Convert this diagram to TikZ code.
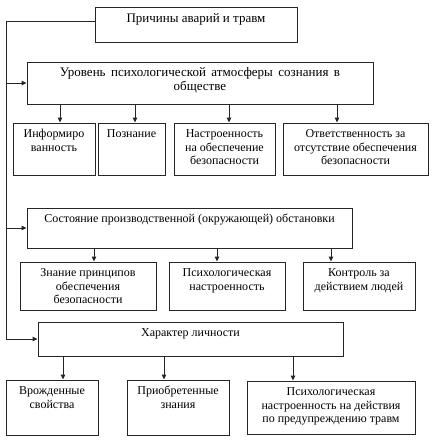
\documentclass[tikz,border=0pt]{standalone}
\usepackage{fontspec}
\setmainfont{Liberation Serif}
\usetikzlibrary{arrows.meta}
\begin{document}
\begin{tikzpicture}[x=1pt,y=-1pt,
  box/.style={draw=black!85,line width=0.9pt,inner sep=0pt},
  txt/.style={inner sep=0pt,anchor=north,align=center,font=\fontsize{12}{13.5}\selectfont},
  bigtxt/.style={txt,font=\fontsize{13}{14}\selectfont},
  ln/.style={draw=black!85,line width=0.9pt},
  arr/.style={ln,-{Triangle[length=5pt,width=4.5pt]}}]
\useasboundingbox (0,0) rectangle (434,440);
\def\bx#1#2#3#4#5{\node[box,minimum width=#4pt-#2pt,minimum height=#5pt-#3pt] (#1) at ({(#2+#4)/2},{(#3+#5)/2}) {};}
\bx{b1}{95}{7}{297}{42}
\bx{b2}{27}{62}{373}{104}
\bx{a1}{13}{123}{95}{175}
\bx{a2}{98}{123}{165}{175}
\bx{a3}{174}{123}{275}{175}
\bx{a4}{283}{123}{428}{175}
\bx{b3}{27}{208}{352}{248}
\bx{c1}{20}{262}{156}{310}
\bx{c2}{169}{262}{285}{310}
\bx{c3}{303}{262}{415}{310}
\bx{b4}{38}{322}{343}{356}
\bx{d1}{6}{380}{98}{435}
\bx{d2}{127}{380}{229}{435}
\bx{d3}{247}{381}{415}{434}
\def\st{\rule{0pt}{9pt}}
\node[bigtxt] (t1) at ([yshift=-7pt]b1.north) {\st Причины аварий и травм};
\node[bigtxt] (t2) at ([yshift=-6pt]b2.north) {\spaceskip=5.5pt plus 1pt\st Уровень психологической атмосферы сознания в\\обществе};
\node[txt] (ta1) at ([yshift=-6pt]a1.north) {\st Информиро\\ванность};
\node[txt] (ta2) at ([yshift=-6pt]a2.north) {\st Познание};
\node[txt] (ta3) at ([yshift=-6pt]a3.north) {\st Настроенность\\на обеспечение\\безопасности};
\node[txt] (ta4) at ([yshift=-6pt]a4.north) {\st Ответственность за\\отсутствие обеспечения\\безопасности};
\node[txt] (t3) at ([yshift=-6pt]b3.north) {\st Состояние производственной (окружающей) обстановки};
\node[txt] (tc1) at ([yshift=-6pt]c1.north) {\st Знание принципов\\обеспечения\\безопасности};
\node[txt] (tc2) at ([yshift=-6pt]c2.north) {\st Психологическая\\настроенность};
\node[txt] (tc3) at ([yshift=-6pt]c3.north) {\st Контроль за\\действием людей};
\node[txt] (t4) at ([yshift=-6pt]b4.north) {\st Характер личности};
\node[txt] (td1) at ([yshift=-6pt]d1.north) {\st Врожденные\\свойства};
\node[txt] (td2) at ([yshift=-6pt]d2.north) {\st Приобретенные\\знания};
\node[txt] (td3) at ([yshift=-6pt]d3.north) {\st Психологическая\\настроенность на действия\\по предупреждению травм};
% spine
\coordinate (sp) at (6,0);
\draw[arr] ([yshift=3.5pt]b1.west) -| (sp |- b4.west) -- (b4.west);
\draw[arr] (sp |- b2.west) -- (b2.west);
\draw[arr] (sp |- b3.west) -- (b3.west);
% down arrows
\foreach \n/\x in {a1/60,a2/135,a3/229,a4/337}
  \draw[arr] (b2.south -| \x,0) -- (\n.north -| \x,0);
\foreach \n/\x in {c1/94,c2/217,c3/331}
  \draw[arr] (b3.south -| \x,0) -- (\n.north -| \x,0);
\foreach \n/\x in {d1/63,d2/164,d3/293}
  \draw[arr] (b4.south -| \x,0) -- (\n.north -| \x,0);
\end{tikzpicture}
\end{document}
